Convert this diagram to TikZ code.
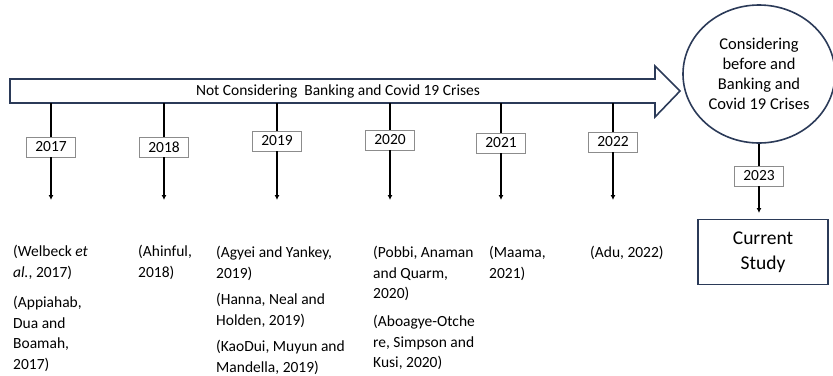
\documentclass[tikz,border=0pt]{standalone}
\usepackage{fontspec}
\setmainfont{Carlito}
\usetikzlibrary{arrows.meta, shapes.geometric, positioning}
\definecolor{navyline}{HTML}{2B3A58}
\definecolor{boxgrey}{HTML}{8C8C8C}
\tikzset{
  bigarrow/.style={draw=navyline, line width=1.6pt, fill=white, line join=miter},
  bandlabel/.style={minimum height=24pt, inner sep=0pt,
                    font=\fontsize{15.5}{20}\selectfont},
  yearbox/.style={rectangle, draw=boxgrey, fill=white, line width=0.8pt,
                  minimum width=49pt, minimum height=20pt, inner sep=0pt,
                  font=\fontsize{15.5}{20}\selectfont},
  stem/.style={draw=black, line width=1.3pt},
  stemarrow/.style={->, draw=black, line width=1.3pt,
                    >={Latex[length=5pt,width=5pt]}},
  citebox/.style={anchor=north west, inner sep=0pt, align=left,
                  font=\fontsize{15.5}{20.5}\selectfont},
  goalellipse/.style={ellipse, draw=navyline, line width=1.6pt,
                      minimum width=152pt, minimum height=138pt, inner sep=0pt,
                      align=center, font=\fontsize{16.5}{20}\selectfont},
  studybox/.style={rectangle, draw=navyline, line width=1.6pt,
                   minimum width=130pt, minimum height=65pt, align=center,
                   font=\fontsize{19.5}{25}\selectfont},
}

\begin{document}
\begin{tikzpicture}[x=1pt, y=-1pt]
  \useasboundingbox (0,0) rectangle (833,375);

  % --- Big arrow ---
  \draw[bigarrow] (10,79) -- (655,79) -- (655,66) -- (680,91) -- (655,117)
                  -- (655,103) -- (10,103) -- cycle;
  \node[bandlabel] (band) at (338,91) {Not Considering~ Banking and Covid 19 Crises};

  % --- Years ---
  \foreach \yr/\x/\y in {2017/51/147, 2018/164/147, 2019/277/141,
                         2020/390/140, 2021/501/143, 2022/613/142}{
    \node[yearbox] (y\yr) at (\x,\y) {\yr};
    \coordinate (e\yr) at (\x,200);
    \draw[stem] (band.south -| y\yr) -- (y\yr);
    \draw[stemarrow] (y\yr) -- (e\yr);
  }

  % --- Studies ---
  \node[citebox] (welbeck) at (13,245)  {(Welbeck \textit{et}\\\textit{al.}, 2017)};
  \node[citebox] (appiah)  at (13,296)  {(Appiahab,\\Dua and\\Boamah,\\2017)};
  \node[citebox] (ahinful) at (138,245) {(Ahinful,\\2018)};
  \node[citebox] (agyei)   at (216,246) {(Agyei and Yankey,\\2019)};
  \node[citebox] (hanna)   at (216,293) {(Hanna, Neal and\\Holden, 2019)};
  \node[citebox] (kaodui)  at (216,340) {(KaoDui, Muyun and\\Mandella, 2019)};
  \node[citebox] (pobbi)   at (373,246) {(Pobbi, Anaman\\and Quarm,\\2020)};
  \node[citebox] (aboagye) at (373,315) {(Aboagye-Otche\\re, Simpson and\\Kusi, 2020)};
  \node[citebox] (maama)   at (489,246) {(Maama,\\2021)};
  \node[citebox] (adu)     at (590,246) {(Adu, 2022)};

  % --- Current study ---
  \node[goalellipse] (goal) at (759,74)
    {Considering\\before and\\Banking and\\Covid 19 Crises};
  \node[yearbox] (y2023) at (759,176) {2023};
  \coordinate (e2023) at (759,213);
  \node[studybox] (study) at (763,252) {Current\\Study};
  \draw[stem] (goal.south) -- (y2023);
  \draw[stemarrow] (y2023) -- (e2023);

\end{tikzpicture}
\end{document}
